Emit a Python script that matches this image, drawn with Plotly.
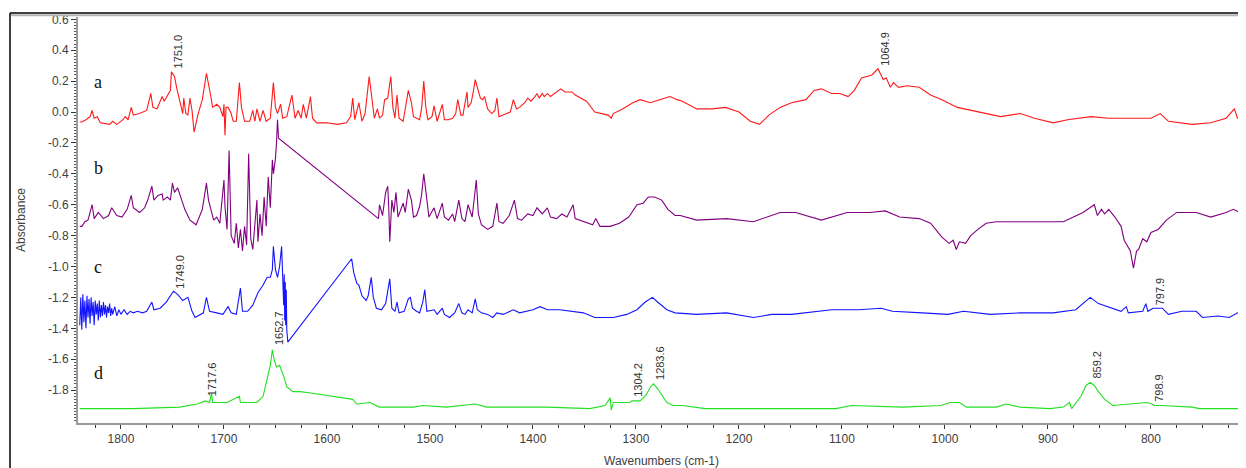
import plotly.graph_objects as go

# ---------------- data ----------------
a_wn = [1840, 1838, 1834, 1830, 1828, 1826, 1823, 1820, 1811, 1808, 1804, 1798, 1796, 1793, 1790, 1788, 1782, 1775,
        1771, 1769, 1765, 1760, 1758, 1755, 1752, 1751, 1748, 1746, 1743, 1740, 1739, 1737, 1735, 1733, 1731, 1729,
        1725, 1721, 1717, 1715, 1713, 1711, 1707, 1704, 1701, 1700, 1699, 1698, 1696, 1693, 1691, 1688, 1685, 1683,
        1680, 1675, 1672, 1670, 1668, 1665, 1662, 1659, 1655, 1652, 1650, 1648, 1645, 1643, 1639, 1634, 1631, 1628,
        1625, 1623, 1620, 1616, 1614, 1610, 1600, 1590, 1581, 1577, 1575, 1573, 1569, 1566, 1563, 1559, 1556, 1554,
        1551, 1549, 1546, 1544, 1541, 1538, 1536, 1534, 1532, 1530, 1526, 1524, 1521, 1518, 1516, 1513, 1510, 1508,
        1506, 1504, 1502, 1498, 1496, 1493, 1488, 1486, 1482, 1478, 1475, 1473, 1470, 1468, 1464, 1463, 1460, 1458,
        1456, 1454, 1451, 1449, 1447, 1444, 1440, 1437, 1435, 1433, 1429, 1422, 1419, 1416, 1413, 1408, 1405, 1402,
        1398, 1396, 1394, 1391, 1389, 1386, 1383, 1379, 1376, 1373, 1369, 1362, 1359, 1354, 1348, 1340, 1332, 1327,
        1324, 1322, 1313, 1303, 1296, 1286, 1277, 1267, 1260, 1255, 1241, 1226, 1213, 1200, 1189, 1180, 1171, 1160,
        1149, 1135, 1127, 1120, 1110, 1102, 1094, 1088, 1081, 1071, 1065, 1060, 1057, 1053, 1050, 1045, 1037, 1025,
        1014, 1003, 988, 974, 955, 946, 927, 913, 895, 881, 858, 841, 812, 800, 791, 783, 760, 742, 727, 719, 716, 710]
a_abs = [-0.065, -0.065, -0.05, -0.03, 0.01, -0.04, -0.03, -0.07, -0.08, -0.06, -0.08, -0.05, -0.03, -0.05, 0.03, -0.02, -0.01, 0.01,
         0.12, 0.03, 0.02, 0.10, 0.07, 0.11, 0.14, 0.26, 0.23, 0.16, 0.08, -0.01, 0.09, -0.01, -0.02, 0.09, 0.01, -0.13,
         -0.01, 0.08, 0.25, 0.19, 0.11, 0.03, 0.05, 0.03, -0.03, 0.05, -0.15, 0.03, 0.03, -0.01, -0.06, -0.06, 0.19, 0.03,
         -0.06, -0.06, 0.01, -0.06, 0.02, -0.06, 0.01, -0.06, -0.04, 0.19, 0.03, -0.01, 0.05, -0.04, -0.03, 0.11, -0.04, 0.01,
         -0.04, 0.05, -0.04, 0.10, -0.04, -0.07, -0.07, -0.08, -0.07, -0.03, 0.09, -0.05, 0.06, -0.06, -0.01, 0.23, 0.08, -0.04,
         0.02, -0.04, -0.02, 0.08, 0.09, 0.23, 0.03, -0.04, 0.11, -0.04, -0.06, 0.03, 0.14, 0.06, -0.03, -0.04, -0.05, 0.03,
         0.20, 0.03, -0.05, -0.03, 0.04, -0.06, 0.05, -0.05, -0.05, -0.04, -0.01, 0.08, -0.02, -0.02, 0.13, 0.03, 0.06, 0.13,
         0.21, 0.16, 0.09, 0.08, 0.10, 0.02, -0.01, 0.01, 0.09, -0.03, -0.02, 0.00, 0.08, 0.02, 0.03, 0.06, 0.09, 0.07,
         0.10, 0.12, 0.09, 0.12, 0.10, 0.12, 0.10, 0.12, 0.14, 0.15, 0.13, 0.13, 0.11, 0.09, 0.07, 0.00, -0.01, -0.02,
         -0.04, -0.01, 0.02, 0.06, 0.08, 0.06, 0.08, 0.10, 0.08, 0.07, 0.02, 0.02, 0.03, 0.00, -0.06, -0.08, -0.02, 0.03,
         0.06, 0.08, 0.14, 0.15, 0.12, 0.12, 0.10, 0.14, 0.22, 0.24, 0.28, 0.21, 0.22, 0.16, 0.19, 0.16, 0.17, 0.16,
         0.11, 0.08, 0.03, 0.01, -0.02, -0.03, -0.01, -0.04, -0.07, -0.05, -0.03, -0.04, -0.04, -0.04, -0.01, -0.06, -0.08, -0.07, -0.04, 0.02, -0.04, -0.05]

b_wn = [1840, 1838, 1835, 1832, 1828, 1826, 1822, 1817, 1812, 1809, 1804, 1799, 1794, 1790, 1788, 1782, 1777, 1774,
        1770, 1768, 1764, 1760, 1759, 1755, 1752, 1750, 1748, 1745, 1741, 1738, 1733, 1727, 1721, 1717, 1715, 1710,
        1707, 1704, 1700, 1699, 1697, 1695, 1693, 1690, 1688, 1686, 1684, 1682, 1680, 1678, 1676, 1674, 1672, 1670,
        1668, 1667, 1665, 1663, 1661, 1659, 1657, 1655, 1653, 1652, 1651, 1650, 1649, 1648, 1647, 1550, 1549, 1546,
        1543, 1541, 1540, 1539, 1537, 1535, 1533, 1531, 1526, 1524, 1521, 1518, 1516, 1513, 1510, 1508, 1506, 1503,
        1501, 1496, 1493, 1488, 1486, 1482, 1478, 1476, 1472, 1469, 1466, 1463, 1459, 1455, 1453, 1450, 1444, 1439,
        1435, 1433, 1429, 1423, 1418, 1415, 1411, 1405, 1400, 1396, 1391, 1386, 1383, 1377, 1372, 1367, 1361, 1359,
        1351, 1342, 1339, 1335, 1325, 1316, 1307, 1299, 1293, 1288, 1282, 1275, 1269, 1262, 1257, 1241, 1212, 1186,
        1160, 1145, 1120, 1095, 1073, 1058, 1044, 1025, 1014, 1003, 996, 992, 989, 986, 980, 975, 968, 960, 950, 913,
        885, 866, 855, 852, 848, 845, 841, 835, 829, 826, 820, 817, 814, 812, 808, 804, 800, 793, 785, 775, 756, 742,
        727, 720, 714, 710]
b_abs = [-0.74, -0.74, -0.71, -0.70, -0.60, -0.69, -0.65, -0.69, -0.67, -0.62, -0.67, -0.68, -0.63, -0.54, -0.62, -0.65, -0.62, -0.57,
         -0.48, -0.57, -0.54, -0.53, -0.57, -0.55, -0.57, -0.46, -0.52, -0.49, -0.57, -0.63, -0.70, -0.73, -0.63, -0.46, -0.57, -0.70,
         -0.68, -0.72, -0.44, -0.61, -0.76, -0.25, -0.80, -0.85, -0.72, -0.88, -0.76, -0.90, -0.74, -0.86, -0.27, -0.82, -0.89, -0.72,
         -0.57, -0.84, -0.66, -0.80, -0.55, -0.74, -0.42, -0.62, -0.31, -0.40, -0.36, -0.30, -0.20, -0.05, -0.17, -0.69, -0.60, -0.67,
         -0.52, -0.48, -0.62, -0.84, -0.57, -0.65, -0.52, -0.68, -0.59, -0.65, -0.50, -0.57, -0.68, -0.67, -0.61, -0.53, -0.40, -0.57,
         -0.68, -0.62, -0.69, -0.59, -0.68, -0.70, -0.66, -0.71, -0.57, -0.69, -0.71, -0.60, -0.68, -0.44, -0.66, -0.73, -0.76, -0.74,
         -0.59, -0.71, -0.72, -0.67, -0.57, -0.69, -0.70, -0.66, -0.67, -0.62, -0.66, -0.62, -0.68, -0.69, -0.66, -0.68, -0.60, -0.69,
         -0.71, -0.73, -0.69, -0.74, -0.74, -0.72, -0.68, -0.60, -0.59, -0.55, -0.55, -0.57, -0.63, -0.67, -0.67, -0.70, -0.69, -0.71,
         -0.65, -0.65, -0.70, -0.65, -0.65, -0.64, -0.68, -0.69, -0.72, -0.81, -0.85, -0.83, -0.89, -0.84, -0.85, -0.80, -0.76, -0.72, -0.71, -0.71,
         -0.71, -0.65, -0.60, -0.67, -0.63, -0.66, -0.63, -0.68, -0.74, -0.83, -0.90, -1.01, -0.90, -0.89, -0.82, -0.84, -0.78, -0.76, -0.70, -0.65, -0.65, -0.68,
         -0.65, -0.63, -0.65, -0.65]

c_wn = [1840, 1839, 1838, 1837, 1836, 1835, 1834, 1833, 1832, 1831, 1830, 1829, 1828, 1827, 1826, 1825, 1824, 1823,
        1822, 1821, 1820, 1819, 1818, 1817, 1816, 1815, 1814, 1813, 1812, 1811, 1810, 1809, 1808, 1806, 1804, 1802,
        1800, 1797, 1794, 1791, 1788, 1784, 1779, 1775, 1770, 1768, 1762, 1756, 1750, 1749, 1745, 1740, 1735, 1731,
        1728, 1723, 1720, 1717, 1714, 1707, 1701, 1696, 1693, 1688, 1684, 1682, 1677, 1672, 1667, 1662, 1658, 1655,
        1653, 1652, 1650, 1648, 1646, 1644, 1643, 1642, 1641.5, 1641, 1640.5, 1640, 1639.5, 1639, 1638, 1576, 1574,
        1571, 1569, 1566, 1562, 1560, 1557, 1555, 1552, 1547, 1543, 1541, 1539, 1537, 1534, 1532, 1530, 1525, 1521,
        1519, 1517, 1513, 1510, 1507, 1505, 1503, 1498, 1496, 1493, 1488, 1486, 1481, 1476, 1472, 1469, 1466, 1463,
        1459, 1456, 1454, 1450, 1444, 1439, 1435, 1429, 1419, 1413, 1400, 1393, 1386, 1374, 1361, 1351, 1340, 1322,
        1309, 1299, 1291, 1284, 1279, 1270, 1262, 1241, 1212, 1186, 1168, 1149, 1110, 1084, 1062, 1051, 1022, 997,
        982, 956, 927, 895, 873, 859, 851, 842, 829, 824, 822, 808, 805, 803, 798, 793, 789, 783, 770, 756, 750, 735,
        724, 713, 712, 710]
c_abs = [-1.38, -1.20, -1.41, -1.18, -1.36, -1.22, -1.40, -1.19, -1.33, -1.21, -1.37, -1.20, -1.32, -1.23, -1.38, -1.22, -1.31, -1.24,
         -1.35, -1.22, -1.33, -1.25, -1.32, -1.23, -1.31, -1.25, -1.33, -1.26, -1.30, -1.24, -1.32, -1.27, -1.31, -1.26, -1.32, -1.28,
         -1.31, -1.28, -1.31, -1.29, -1.30, -1.29, -1.30, -1.29, -1.23, -1.28, -1.27, -1.23, -1.17, -1.16, -1.18, -1.22, -1.20, -1.29,
         -1.33, -1.31, -1.30, -1.20, -1.29, -1.30, -1.31, -1.26, -1.30, -1.31, -1.14, -1.29, -1.29, -1.25, -1.17, -1.12, -1.07, -1.07,
         -1.02, -0.87, -1.02, -1.07, -1.00, -0.87, -1.05, -1.25, -1.05, -1.35, -1.10, -1.38, -1.15, -1.41, -1.49, -0.95, -1.04,
         -1.11, -1.12, -1.19, -1.22, -1.19, -1.07, -1.20, -1.27, -1.28, -1.24, -1.17, -1.08, -1.27, -1.29, -1.23, -1.30, -1.29, -1.21,
         -1.20, -1.27, -1.29, -1.30, -1.23, -1.15, -1.29, -1.28, -1.28, -1.31, -1.27, -1.31, -1.33, -1.30, -1.24, -1.30, -1.31, -1.28,
         -1.30, -1.21, -1.28, -1.30, -1.31, -1.33, -1.30, -1.31, -1.28, -1.30, -1.28, -1.26, -1.28, -1.28, -1.29, -1.30, -1.33, -1.33,
         -1.31, -1.28, -1.23, -1.20, -1.23, -1.28, -1.30, -1.31, -1.30, -1.33, -1.31, -1.31, -1.28, -1.28, -1.27, -1.29, -1.30, -1.31,
         -1.29, -1.31, -1.30, -1.30, -1.28, -1.20, -1.24, -1.26, -1.29, -1.26, -1.30, -1.29, -1.24, -1.29, -1.27, -1.27, -1.27, -1.31, -1.29, -1.29, -1.33, -1.32,
         -1.33, -1.29, -1.33, -1.33]

d_wn = [1840, 1788, 1743, 1726, 1718, 1714, 1712, 1711, 1697, 1685, 1684, 1668, 1662, 1657, 1655, 1653, 1651, 1649,
        1646, 1642, 1639, 1633, 1626, 1614, 1581, 1575, 1571, 1558, 1549, 1516, 1507, 1484, 1456, 1445, 1386, 1345,
        1330, 1325, 1324, 1322, 1306, 1304, 1296, 1290, 1286, 1283, 1279, 1275, 1270, 1264, 1255, 1233, 1106, 1091,
        1041, 1004, 995, 986, 979, 950, 941, 927, 898, 885, 879, 877, 868, 863, 859, 855, 851, 845, 837, 804, 799,
        797, 790, 760, 753, 710]
d_abs = [-1.92, -1.92, -1.91, -1.89, -1.87, -1.88, -1.82, -1.88, -1.88, -1.84, -1.88, -1.88, -1.84, -1.71, -1.64, -1.54, -1.61, -1.65,
         -1.64, -1.71, -1.78, -1.81, -1.81, -1.82, -1.85, -1.86, -1.89, -1.88, -1.91, -1.91, -1.90, -1.91, -1.89, -1.91, -1.91, -1.92,
         -1.90, -1.85, -1.93, -1.88, -1.88, -1.87, -1.87, -1.83, -1.78, -1.76, -1.79, -1.83, -1.88, -1.90, -1.90, -1.92, -1.92, -1.90,
         -1.91, -1.90, -1.88, -1.88, -1.91, -1.91, -1.89, -1.91, -1.92, -1.91, -1.88, -1.92, -1.84, -1.77, -1.75, -1.77, -1.81, -1.86, -1.90, -1.88, -1.89,
         -1.90, -1.90, -1.91, -1.92, -1.92]

# peak labels: text, wavenumber, absorbance of the peak
peak_text = ["1751.0", "1064.9", "1749.0", "797.9", "1717.6", "1652.7", "1304.2", "1283.6", "859.2", "798.9"]
peak_wn = [1751.0, 1064.9, 1749.0, 797.9, 1717.6, 1652.7, 1304.2, 1283.6, 859.2, 798.9]
peak_abs = [0.265, 0.28, -1.16, -1.27, -1.86, -1.53, -1.865, -1.755, -1.745, -1.895]

# spectrum letters
letter_text = ["a", "b", "c", "d"]
letter_wn = [1822, 1822, 1822, 1822]
letter_abs = [0.194, -0.362, -1.003, -1.689]

x_ticks = [1800, 1700, 1600, 1500, 1400, 1300, 1200, 1100, 1000, 900, 800]
y_ticks = [0.6, 0.4, 0.2, 0.0, -0.2, -0.4, -0.6, -0.8, -1.0, -1.2, -1.4, -1.6, -1.8]

# ---------------- figure ----------------
fig = go.Figure()
series = [(a_wn, a_abs, "#ff1a1a"), (b_wn, b_abs, "#800080"), (c_wn, c_abs, "#1414ff"), (d_wn, d_abs, "#22e022")]
for wn, ab, col in series:
    fig.add_trace(go.Scatter(x=wn, y=ab, mode="lines", line=dict(color=col, width=1.1), showlegend=False,
                             hoverinfo="skip"))

annotations = []
for t, w, v in zip(peak_text, peak_wn, peak_abs):
    annotations.append(dict(x=w, y=v, xref="x", yref="y", text=t, showarrow=False, textangle=-90,
                            xanchor="center", yanchor="bottom", xshift=7, yshift=1,
                            font=dict(family="Liberation Sans, Arial", size=11, color="#333333")))
for t, w, v in zip(letter_text, letter_wn, letter_abs):
    annotations.append(dict(x=w, y=v, xref="x", yref="y", text=t, showarrow=False,
                            xanchor="center", yanchor="middle",
                            font=dict(family="Liberation Serif, Times New Roman", size=18, color="#111111")))

# The page body adds an 8px offset; figure size/margins compensate for it.
OFF = 8
W, H = 1246 - OFF, 468 - OFF
L, R, T, B = 78 - OFF, 1, 17 - OFF, 45
pw, ph = W - L - R, H - T - B
def px(x):  # page pixel -> paper
    return (x - OFF - L) / pw
def py(y):
    return (H - B - (y - OFF)) / ph

shapes = [
    dict(type="line", xref="paper", yref="paper", x0=px(10), x1=px(1246), y0=py(13), y1=py(13),
         line=dict(color="#000000", width=1.5)),
    dict(type="line", xref="paper", yref="paper", x0=px(11), x1=px(1246), y0=py(15.3), y1=py(15.3),
         line=dict(color="#b4b4b4", width=2)),
    dict(type="line", xref="paper", yref="paper", x0=px(10), x1=px(10), y0=py(13), y1=py(468),
         line=dict(color="#000000", width=1.5)),
]

fig.update_layout(
    width=W, height=H,
    margin=dict(l=L, r=R, t=T, b=B),
    paper_bgcolor="white", plot_bgcolor="white",
    annotations=annotations, shapes=shapes,
    font=dict(family="Liberation Sans, Arial", size=12, color="#333333"),
)
fig.update_xaxes(
    range=[1841.7, 708.7], tickvals=x_ticks, ticktext=[str(v) for v in x_ticks],
    showgrid=False, zeroline=False, showline=True, linecolor="#9a9a9a", linewidth=2,
    ticks="outside", ticklen=4, tickwidth=1, tickcolor="#333333",
    minor=dict(dtick=25, tick0=1800, ticks="outside", ticklen=3, tickcolor="#333333", showgrid=False),
    tickfont=dict(size=12, color="#404040"),
    title=dict(text="Wavenumbers (cm-1)", font=dict(size=12, color="#404040"), standoff=11),
)
fig.update_yaxes(
    range=[-2.013, 0.615], tickvals=y_ticks, ticktext=["%.1f" % v for v in y_ticks],
    showgrid=False, zeroline=False, showline=True, linecolor="#9a9a9a", linewidth=2,
    ticks="outside", ticklen=5, tickwidth=1, tickcolor="#333333",
    minor=dict(dtick=0.02, tick0=0, ticks="outside", ticklen=2, tickcolor="#555555", showgrid=False),
    tickfont=dict(size=12, color="#404040"),
    title=dict(text="Absorbance", font=dict(size=12, color="#404040"), standoff=20),
)

fig.write_html("out.html")
